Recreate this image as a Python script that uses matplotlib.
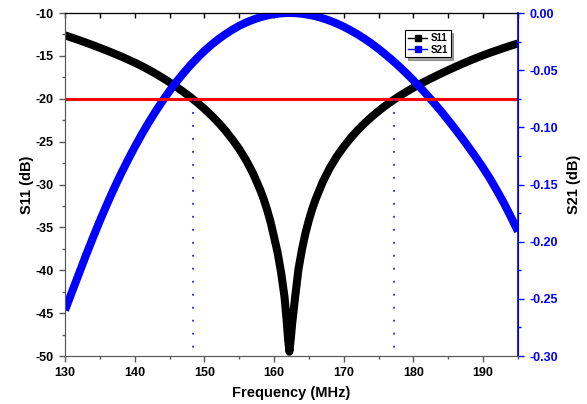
import matplotlib
matplotlib.use("Agg")
import matplotlib.pyplot as plt
from matplotlib.lines import Line2D
from matplotlib.ticker import MultipleLocator, FormatStrFormatter, NullFormatter

plt.rcParams['font.family'] = ['Liberation Sans', 'DejaVu Sans']
plt.rcParams['font.weight'] = 'bold'
plt.rcParams['axes.unicode_minus'] = False

# values
freq = [130, 131, 132, 133, 134, 135, 136, 137, 138, 139, 140, 141, 142, 143,
        144, 145, 146, 147, 148, 149, 150, 151, 152, 153, 154, 155, 156, 157,
        158, 158.5, 159, 159.5, 160, 160.5, 161, 161.5, 161.8, 162, 162.2,
        162.4, 162.6, 163, 163.5, 164, 164.5, 165, 165.5, 166, 167, 168, 169,
        170, 171, 172, 173, 174, 175, 176, 177, 178, 179, 180, 181, 182, 183,
        184, 185, 186, 187, 188, 189, 190, 191, 192, 193, 194, 195]
s11 = [-12.60, -12.88, -13.16, -13.45, -13.75, -14.06, -14.38, -14.71, -15.05,
       -15.41, -15.78, -16.18, -16.61, -17.07, -17.56, -18.07, -18.62, -19.20,
       -19.81, -20.46, -21.17, -21.94, -22.77, -23.69, -24.73, -25.86, -27.18,
       -28.73, -30.59, -31.68, -32.93, -34.38, -36.11, -37.90, -40.20, -43.10,
       -45.80, -47.90, -49.50, -48.00, -46.20, -43.30, -39.90, -37.60, -35.70,
       -34.15, -32.80, -31.65, -29.68, -28.07, -26.73, -25.59, -24.57, -23.66,
       -22.85, -22.11, -21.43, -20.80, -20.22, -19.68, -19.18, -18.71, -18.26,
       -17.84, -17.44, -17.04, -16.66, -16.29, -15.93, -15.58, -15.25, -14.93,
       -14.63, -14.35, -14.07, -13.80, -13.55]
s21 = [-0.2600, -0.2440, -0.2280, -0.2121, -0.1967, -0.1818, -0.1676, -0.1540,
       -0.1411, -0.1289, -0.1173, -0.1063, -0.0959, -0.0861, -0.0769, -0.0682,
       -0.0601, -0.0526, -0.0456, -0.0392, -0.0332, -0.0278, -0.0230, -0.0186,
       -0.0147, -0.0112, -0.0083, -0.0058, -0.0038, -0.0029, -0.0022, -0.0015,
       -0.0010, -0.0006, -0.0003, -0.0001, 0.0, 0.0, 0.0, 0.0, 0.0, -0.0001,
       -0.0003, -0.0006, -0.0011, -0.0016, -0.0022, -0.0029, -0.0046, -0.0067,
       -0.0092, -0.0120, -0.0152, -0.0187, -0.0226, -0.0268, -0.0314, -0.0363,
       -0.0415, -0.0470, -0.0528, -0.0589, -0.0653, -0.0720, -0.0790, -0.0862,
       -0.0938, -0.1016, -0.1096, -0.1180, -0.1265, -0.1355, -0.1450, -0.1555,
       -0.1665, -0.1785, -0.1910]
ref_level = -20
band_edges = [148.3, 177.2]

fig = plt.figure(figsize=(5.87, 4.04), dpi=100)
ax1 = fig.add_axes([0.1107, 0.1188, 0.7717, 0.849])
ax2 = ax1.twinx()

ax1.plot(freq, s11, color='black', lw=5.8, solid_capstyle='butt',
         solid_joinstyle='round')
ax2.plot(freq, s21, color='#0000ff', lw=5.8, solid_capstyle='butt',
         solid_joinstyle='round')
# reference line and band edges drawn above the curves
ax2.plot([130, 195], [ref_level, ref_level], color='red', lw=2.2,
         transform=ax1.transData)
for fe in band_edges:
    ax2.plot([fe, fe], [ref_level, -50], color='#0000ff', lw=1.1,
             linestyle=(0, (1.2, 7.3)), transform=ax1.transData)

ax1.set_xlim(130, 195)
ax1.set_ylim(-50, -10)
ax2.set_ylim(-0.30, 0.0)

ax1.xaxis.set_major_locator(MultipleLocator(10))
ax1.xaxis.set_minor_locator(MultipleLocator(5))
ax1.yaxis.set_major_locator(MultipleLocator(5))
ax1.yaxis.set_minor_locator(MultipleLocator(2.5))
ax2.yaxis.set_major_locator(MultipleLocator(0.05))
ax2.yaxis.set_minor_locator(MultipleLocator(0.025))
ax2.yaxis.set_major_formatter(FormatStrFormatter('%.2f'))

axis_grey = '#5a5a5a'
ax1.tick_params(which='major', direction='out', length=4.5, width=1,
                labelsize=9, top=False, color=axis_grey)
ax1.tick_params(which='minor', direction='out', length=2.5, width=1,
                top=False, color=axis_grey)
ax2.tick_params(which='major', direction='out', length=4.5, width=1,
                colors='#0000ff', labelsize=9)
ax2.tick_params(which='minor', direction='out', length=2.5, width=1,
                colors='#0000ff')
for lab in ax1.get_xticklabels() + ax1.get_yticklabels() + ax2.get_yticklabels():
    lab.set_fontweight('bold')

# inward ticks on the top frame
top = ax1.secondary_xaxis('top')
top.xaxis.set_major_locator(MultipleLocator(5))
top.xaxis.set_major_formatter(NullFormatter())
top.tick_params(direction='in', length=3.5, width=1, color='black')
top.spines['top'].set_color('black')

for side in ['left', 'bottom']:
    ax1.spines[side].set_color(axis_grey)
    ax2.spines[side].set_color(axis_grey)
ax2.spines['right'].set_color('#0000ff')
ax2.spines['right'].set_linewidth(1.2)

ax1.set_xlabel('Frequency (MHz)', fontsize=10.5, fontweight='bold', labelpad=5)
ax1.set_ylabel('S11 (dB)', fontsize=10.5, fontweight='bold', labelpad=1)
ax2.set_ylabel('S21 (dB)', fontsize=10.5, fontweight='bold', labelpad=7)

handles = [Line2D([], [], color='black', lw=1, marker='s', markersize=4),
           Line2D([], [], color='#0000ff', lw=1, marker='s', markersize=4)]
leg = ax2.legend(handles, ['S11', 'S21'], loc='upper left',
                 bbox_to_anchor=(0.7506, 0.950), fontsize=7, frameon=True,
                 fancybox=False, shadow=True, edgecolor='black',
                 handlelength=2.0, handletextpad=0.3, borderpad=0.3,
                 labelspacing=0.15, borderaxespad=0)
leg.get_frame().set_linewidth(0.8)
for t in leg.get_texts():
    t.set_fontweight('bold')

fig.savefig('out.png', dpi=100)
